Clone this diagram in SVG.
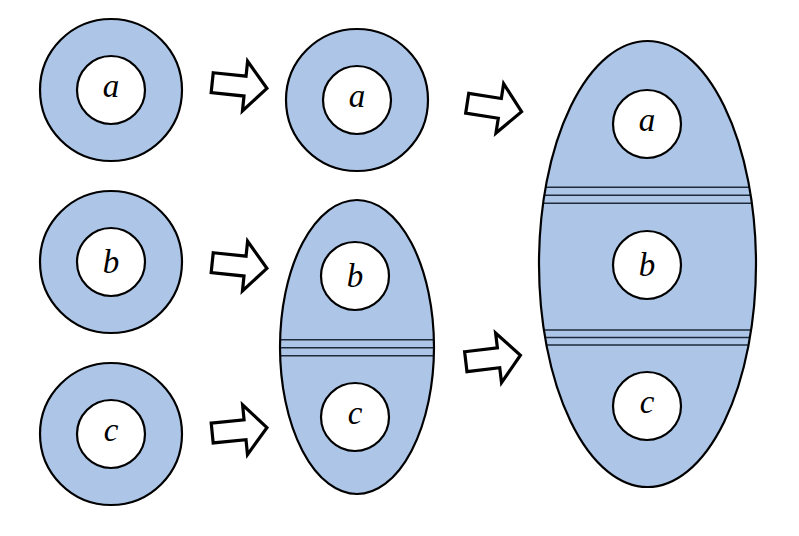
<svg xmlns="http://www.w3.org/2000/svg" xmlns:xlink="http://www.w3.org/1999/xlink" width="799" height="536" viewBox="0 0 799 536">
<style>
.blob{fill:#adc6e8;stroke:#000;stroke-width:2.2}
.hole{fill:#fff;stroke:#000;stroke-width:2.2}
.stripe{stroke:#1e2a3a;stroke-width:1.4;fill:none}
.arr{fill:#fff;stroke:#000;stroke-width:3.2;stroke-linejoin:miter}
.lbl{font-family:"Liberation Serif","DejaVu Serif",serif;font-style:italic;font-size:33px;text-anchor:middle;fill:#000}
</style>
<defs>
<path id="arr" d="M0,-10 L33,-10 L33,-25 L55,0 L33,25 L33,10 L0,10 Z"/>
<clipPath id="clipS"><ellipse cx="357" cy="347" rx="77" ry="147"/></clipPath>
<clipPath id="clipL"><ellipse cx="647.5" cy="264" rx="108.5" ry="223"/></clipPath>
</defs>
<rect width="799" height="536" fill="#fff"/>

<g id="ring-a">
<circle class="blob" cx="111" cy="90" r="71"/>
<circle class="hole" cx="111" cy="90" r="34"/>
<text class="lbl" x="111" y="97">a</text>
</g>
<g id="ring-b">
<circle class="blob" cx="111" cy="262" r="71"/>
<circle class="hole" cx="111" cy="262" r="34"/>
<text class="lbl" x="111" y="273">b</text>
</g>
<g id="ring-c">
<circle class="blob" cx="111" cy="434" r="71"/>
<circle class="hole" cx="111" cy="434" r="34"/>
<text class="lbl" x="111" y="441">c</text>
</g>

<g id="ring-a2">
<circle class="blob" cx="357" cy="100" r="71"/>
<circle class="hole" cx="357" cy="100" r="34"/>
<text class="lbl" x="357" y="107">a</text>
</g>

<g id="ellipse-bc">
<ellipse cx="357" cy="347" rx="77" ry="147" fill="#adc6e8"/>
<g clip-path="url(#clipS)">
<line class="stripe" x1="270" y1="339.7" x2="440" y2="339.7"/>
<line class="stripe" x1="270" y1="347.7" x2="440" y2="347.7"/>
<line class="stripe" x1="270" y1="355.7" x2="440" y2="355.7"/>
</g>
<ellipse cx="357" cy="347" rx="77" ry="147" fill="none" stroke="#000" stroke-width="2.2"/>
<circle class="hole" cx="355" cy="276" r="34"/>
<text class="lbl" x="355" y="287">b</text>
<circle class="hole" cx="355" cy="417" r="34"/>
<text class="lbl" x="355" y="424">c</text>
</g>

<g id="ellipse-abc">
<ellipse cx="647.5" cy="264" rx="108.5" ry="223" fill="#adc6e8"/>
<g clip-path="url(#clipL)">
<line class="stripe" x1="530" y1="187.3" x2="770" y2="187.3"/>
<line class="stripe" x1="530" y1="195.3" x2="770" y2="195.3"/>
<line class="stripe" x1="530" y1="203.3" x2="770" y2="203.3"/>
<line class="stripe" x1="530" y1="330" x2="770" y2="330"/>
<line class="stripe" x1="530" y1="337.5" x2="770" y2="337.5"/>
<line class="stripe" x1="530" y1="345" x2="770" y2="345"/>
</g>
<ellipse cx="647.5" cy="264" rx="108.5" ry="223" fill="none" stroke="#000" stroke-width="2.2"/>
<circle class="hole" cx="647" cy="124" r="34"/>
<text class="lbl" x="647" y="131">a</text>
<circle class="hole" cx="647" cy="265" r="34"/>
<text class="lbl" x="647" y="276">b</text>
<circle class="hole" cx="647" cy="406" r="34"/>
<text class="lbl" x="647" y="413">c</text>
</g>

<g id="connectors">
<use xlink:href="#arr" class="arr" transform="translate(212.2,82.7) rotate(5.9)"/>
<use xlink:href="#arr" class="arr" transform="translate(212.2,262.7) rotate(5.9)"/>
<use xlink:href="#arr" class="arr" transform="translate(212.2,433) rotate(-5.6)"/>
<use xlink:href="#arr" class="arr" transform="translate(467.2,103.3) rotate(8.8)"/>
<use xlink:href="#arr" class="arr" transform="translate(465.8,361.7) rotate(-6.8)"/>
</g>
</svg>
